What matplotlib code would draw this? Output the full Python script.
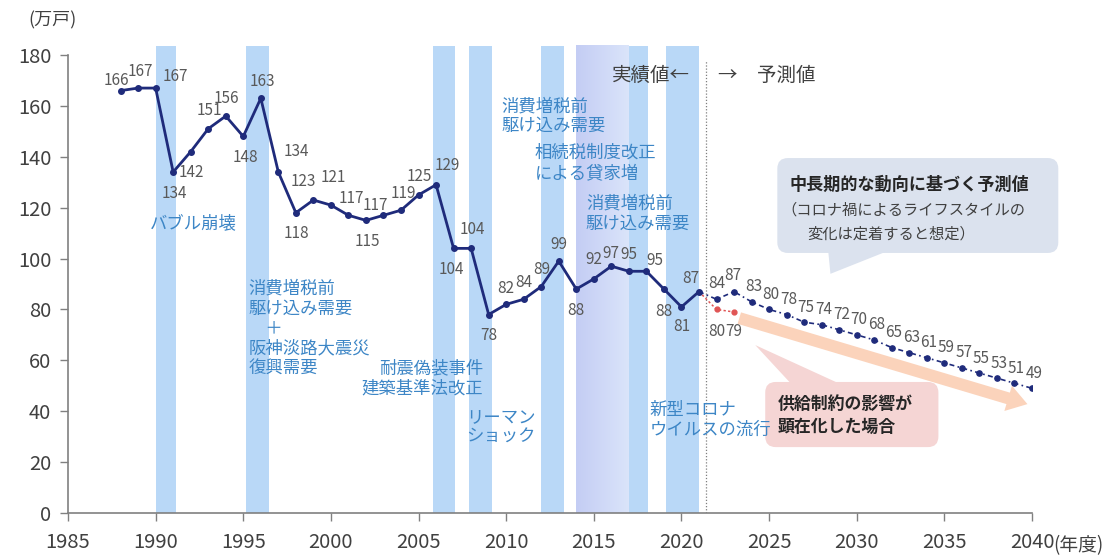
import matplotlib.pyplot as plt
import numpy as np
from matplotlib.colors import LinearSegmentedColormap
from matplotlib.patches import FancyBboxPatch, Polygon, FancyArrowPatch

plt.rcParams['font.family'] = ['Noto Sans CJK JP', 'DejaVu Sans']

# 新設住宅着工戸数 (万戸)
actual_years = list(range(1988, 2022))
actual_values = [166, 167, 167, 134, 142, 151, 156, 148, 163, 134, 118, 123, 121, 117,
                 115, 117, 119, 125, 129, 104, 104, 78, 82, 84, 89, 99, 88, 92, 97, 95,
                 95, 88, 81, 87]
forecast_years = list(range(2022, 2041))
forecast_values = [84, 87, 83, 80, 78, 75, 74, 72, 70, 68, 65, 63, 61, 59, 57, 55, 53, 51, 49]
constrained_years = [2022, 2023]
constrained_values = [80, 79]

# shaded periods (年度)
event_spans = [(1990.0, 1991.15), (1995.15, 1996.45), (2005.8, 2007.1), (2007.9, 2009.2),
               (2012.0, 2013.3), (2017.0, 2018.1), (2019.1, 2021.0)]
gradient_span = (2014.0, 2017.0)
boundary_year = 2021.4

x_ticks = list(range(1985, 2041, 5))
y_ticks = list(range(0, 181, 20))

# label offsets in pixels (dx, dy)
actual_offsets = [(-4, 10), (2, 17), (20, 12), (1, -21), (1, -21), (1, 18), (1, 18), (2, -21),
                  (2, 17), (18, 21), (1, -21), (-10, 19), (2, 28), (3, 17), (1, -21), (-8, 10),
                  (2, 17), (1, 18), (11, 19), (-2, -21), (1, 19), (0, -21), (0, 16), (0, 17),
                  (1, 17), (0, 17), (0, -21), (0, 19), (0, 13), (0, 17), (8, 11), (0, -22),
                  (0, -20), (-8, 13)]
forecast_offsets = [(0, 16), (-1, 16)] + [(2, 15)] * 17
constrained_offsets = [(0, -22), (0, -20)]

navy = '#1f2b7b'
band_c = '#b9d8f7'
note_c = '#3d86c6'
label_c = '#595959'

fig = plt.figure(figsize=(11.14, 5.55), dpi=100)
ax = fig.add_axes([68 / 1114, 42 / 555, 964 / 1114, 458 / 555])

for a, b in event_spans:
    ax.axvspan(a, b, ymax=1.02, color=band_c, lw=0, zorder=0, clip_on=False)
grad = LinearSegmentedColormap.from_list('g', ['#c4cdf4', '#dae4fa'])
ax.imshow(np.linspace(0, 1, 50).reshape(1, -1), cmap=grad, aspect='auto',
          extent=[gradient_span[0], gradient_span[1], 0, 183.6], zorder=0, clip_on=False)

ax.axvline(boundary_year, ymax=0.99, color='#7f7f7f', ls=(0, (1, 1.5)), lw=0.9, zorder=1)

# lines
ax.plot(actual_years, actual_values, color=navy, lw=2, marker='o', ms=4, zorder=4)
ax.plot(actual_years[-1:] + forecast_years, actual_values[-1:] + forecast_values,
        color=navy, lw=1.2, ls=(0, (3, 2, 1, 2)), marker='o', ms=3.8,
        markevery=list(range(1, len(forecast_years) + 1)), zorder=4)
ax.plot(actual_years[-1:] + constrained_years, actual_values[-1:] + constrained_values,
        color='#e05555', lw=1.1, ls=(0, (1.5, 1.5)), marker='o', ms=3.5,
        markevery=[1, 2], zorder=3)

for yr, v, (dx, dy) in zip(actual_years, actual_values, actual_offsets):
    ax.annotate(str(v), (yr, v), xytext=(dx, dy), textcoords='offset pixels',
                ha='center', va='center', fontsize=11, color=label_c, zorder=5)
for yr, v, (dx, dy) in zip(forecast_years, forecast_values, forecast_offsets):
    ax.annotate(str(v), (yr, v), xytext=(dx, dy), textcoords='offset pixels',
                ha='center', va='center', fontsize=11, color=label_c, zorder=5)
for yr, v, (dx, dy) in zip(constrained_years, constrained_values, constrained_offsets):
    ax.annotate(str(v), (yr, v), xytext=(dx, dy), textcoords='offset pixels',
                ha='center', va='center', fontsize=11, color=label_c, zorder=5)

# event notes
kw = dict(fontsize=12.5, color=note_c, va='center', linespacing=1.15, zorder=5)
ax.text(1989.7, 114, 'バブル崩壊', ha='left', **kw)
ax.text(1995.28, 72.5, '消費増税前\n駆け込み需要\n　＋\n阪神淡路大震災\n復興需要', ha='left', **kw)
ax.text(2008.68, 53, '耐震偽装事件\n建築基準法改正', ha='right', multialignment='right', **kw)
ax.text(2007.74, 33.8, 'リーマン\nショック', ha='left', **kw)
ax.text(2009.74, 156, '消費増税前\n駆け込み需要', ha='left', **kw)
ax.text(2011.64, 137.6, '相続税制度改正\nによる貸家増', ha='left', **kw)
ax.text(2014.55, 117.8, '消費増税前\n駆け込み需要', ha='left', **kw)
ax.text(2018.2, 36.6, '新型コロナ\nウイルスの流行', ha='left', **kw)

ax.text(2020.5, 172, '実績値←', ha='right', va='center', fontsize=14, color='#404040')
ax.text(2022.1, 172, '→　予測値', ha='left', va='center', fontsize=14, color='#404040')

# callout: trend forecast
asp = 17.527 / 2.5444
box1_c = '#dbe2ee'
ax.add_patch(FancyBboxPatch((2025.47, 102.2), 16.03, 37.3,
                            boxstyle='round,pad=0,rounding_size=0.6', mutation_aspect=asp,
                            fc=box1_c, ec='none', clip_on=False, zorder=2))
ax.add_patch(Polygon([(2028.38, 102.5), (2031.6, 102.5), (2028.5, 94)], closed=True,
                     fc=box1_c, ec='none', clip_on=False, zorder=2))
ax.text(2026.19, 128.9, '中長期的な動向に基づく予測値', fontsize=12.3, fontweight='bold',
        color='#262626', va='center', ha='left', zorder=5)
ax.text(2025.7, 119.1, '（コロナ禍によるライフスタイルの', fontsize=11, color='#404040',
        va='center', ha='left', zorder=5)
ax.text(2027.2, 109.7, '変化は定着すると想定）', fontsize=11, color='#404040',
        va='center', ha='left', zorder=5)

# callout: supply constraint
box2_c = '#f5d5d4'
ax.add_patch(FancyBboxPatch((2024.78, 25.9), 9.88, 25.6,
                            boxstyle='round,pad=0,rounding_size=0.6', mutation_aspect=asp,
                            fc=box2_c, ec='none', clip_on=False, zorder=2))
ax.add_patch(Polygon([(2024.21, 66), (2026.2, 51.2), (2028.9, 51.2)], closed=True,
                     fc=box2_c, ec='none', clip_on=False, zorder=2))
ax.text(2025.5, 38.3, '供給制約の影響が\n顕在化した場合', fontsize=12.2, fontweight='bold',
        color='#262626', va='center', ha='left', linespacing=1.4, zorder=5)

ax.add_patch(FancyArrowPatch((2023.3, 76.6), (2039.74, 42.8),
                             arrowstyle='simple,tail_width=0.86,head_width=1.9,head_length=1.45',
                             mutation_scale=10, color='#fbd3bb', lw=0, shrinkA=0, shrinkB=0,
                             clip_on=False, zorder=2))

# axes
ax.set_xlim(1985, 2040)
ax.set_ylim(0, 180)
ax.set_xticks(x_ticks)
ax.set_yticks(y_ticks)
for s in ['top', 'right']:
    ax.spines[s].set_visible(False)
for s in ['left', 'bottom']:
    ax.spines[s].set_color('#808080')
    ax.spines[s].set_linewidth(1.2)
ax.tick_params(axis='both', direction='out', length=6, width=1, color='#808080',
               labelsize=14.5, labelcolor='#404040')
ax.tick_params(axis='y', pad=6)
ax.tick_params(axis='x', pad=8)
ax.annotate('(年度)', (2040, 0), xytext=(21, -33), textcoords='offset pixels',
            ha='left', va='center', fontsize=13.5, color='#404040', annotation_clip=False)
fig.text(28 / 1114, 1 - 20 / 555, '(万戸)', ha='left', va='center', fontsize=13,
         color='#404040')

fig.savefig('out.png', dpi=100)
